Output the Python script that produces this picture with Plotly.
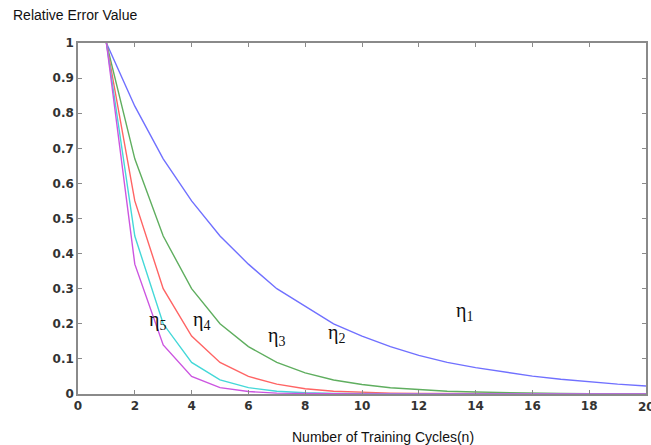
import plotly.graph_objects as go

n = list(range(1, 21))
eta1 = [1, 0.82, 0.67, 0.55, 0.45, 0.37, 0.30, 0.25, 0.20, 0.165, 0.135, 0.11, 0.09, 0.075, 0.062, 0.051, 0.042, 0.034, 0.028, 0.023]
eta2 = [1, 0.67, 0.45, 0.30, 0.20, 0.135, 0.09, 0.06, 0.04, 0.027, 0.018, 0.012, 0.008, 0.0055, 0.0037, 0.0025, 0.0017, 0.0011, 0.0008, 0.0005]
eta3 = [1, 0.55, 0.30, 0.165, 0.09, 0.05, 0.028, 0.015, 0.008, 0.0045, 0.0025, 0.0014, 0.0008, 0.0004, 0.0002, 0.0001, 0.0001, 0, 0, 0]
eta4 = [1, 0.45, 0.20, 0.09, 0.04, 0.018, 0.008, 0.0035, 0.0016, 0.0007, 0.0003, 0.0001, 0, 0, 0, 0, 0, 0, 0, 0]
eta5 = [1, 0.37, 0.14, 0.05, 0.018, 0.007, 0.0025, 0.001, 0.0004, 0.0001, 0, 0, 0, 0, 0, 0, 0, 0, 0, 0]

series = [eta1, eta2, eta3, eta4, eta5]
colors = ["#7070ff", "#5fae5f", "#ff6464", "#44d8d8", "#cc55e0"]

labels = ["η<sub>1</sub>", "η<sub>2</sub>", "η<sub>3</sub>", "η<sub>4</sub>", "η<sub>5</sub>"]
label_x = [13.6, 9.1, 7.0, 4.35, 2.8]
label_y = [0.235, 0.172, 0.165, 0.21, 0.21]

x_ticks = list(range(0, 21, 2))
y_ticks = [0, 0.1, 0.2, 0.3, 0.4, 0.5, 0.6, 0.7, 0.8, 0.9, 1]
y_ticktext = ["0", "0.1", "0.2", "0.3", "0.4", "0.5", "0.6", "0.7", "0.8", "0.9", "1"]

tick_font = dict(family="DejaVu Sans, Verdana, sans-serif", size=12, color="#333", weight="bold")
label_font = dict(family="Liberation Sans, Arial, sans-serif", size=14, color="#111")

fig = go.Figure()
for s, c in zip(series, colors):
    fig.add_trace(go.Scatter(x=n, y=s, mode="lines", line=dict(color=c, width=1.4), showlegend=False))

for t, x, y in zip(labels, label_x, label_y):
    fig.add_annotation(x=x, y=y, text=t, showarrow=False,
                       font=dict(family="Liberation Serif, Times New Roman, serif", size=20, color="#111"))

fig.add_annotation(xref="paper", yref="paper", x=-0.118, y=1.052, xanchor="left", yanchor="bottom",
                   text="Relative Error Value", showarrow=False, font=label_font)

fig.add_annotation(xref="paper", yref="paper", x=0.537, y=-0.095, xanchor="center", yanchor="top",
                   text="Number of Training Cycles(n)", showarrow=False, font=label_font)

# last x tick label (partly beyond the page edge, as in the reference)
fig.add_annotation(x=x_ticks[-1], xref="x", yref="paper", y=-0.012, xanchor="center", yanchor="top",
                   text=str(x_ticks[-1]), showarrow=False, font=tick_font)

axis_common = dict(showgrid=False, zeroline=False, showline=True, linecolor="#8a8a8a", linewidth=1.5,
                   mirror="ticks", ticks="inside", ticklen=4, tickcolor="#8a8a8a", tickwidth=1,
                   automargin=False, tickfont=tick_font)

fig.update_xaxes(range=[0, 20], tickvals=x_ticks, ticktext=[str(v) for v in x_ticks], **axis_common)
fig.update_yaxes(range=[0, 1], tickvals=y_ticks, ticktext=y_ticktext, **axis_common)

fig.update_layout(width=651, height=445, margin=dict(l=78, r=5, t=43, b=51),
                  paper_bgcolor="white", plot_bgcolor="white")

fig.write_html("out.html")
